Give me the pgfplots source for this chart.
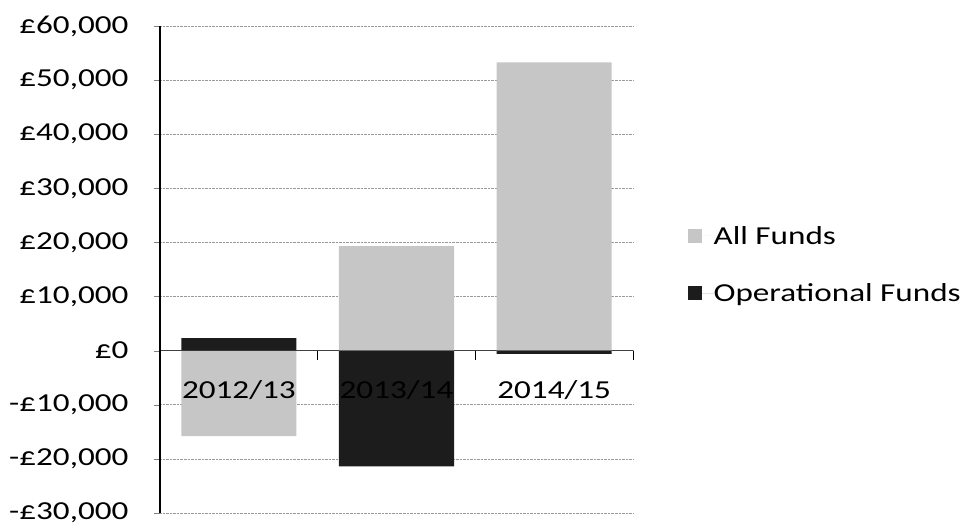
\documentclass[border=0pt]{standalone}
\usepackage{fontspec}
\setmainfont[FakeStretch=1.28]{Carlito}
\usepackage{pgfplots}
\pgfplotsset{compat=1.18}
\definecolor{allf}{HTML}{C6C6C6}
\definecolor{opf}{HTML}{1C1C1C}
\begin{document}
\begin{tikzpicture}
\useasboundingbox (-160bp,-13bp) rectangle (819bp,513bp);
\begin{axis}[
  scale only axis,
  width=473bp, height=487bp,
  xmin=-0.5, xmax=2.5,
  ymin=-30000, ymax=60000,
  scaled y ticks=false,
  clip=false,
  axis x line=middle,
  axis y line=left,
  axis line style={-},
  x axis line style={draw=black!75, line width=1pt},
  y axis line style={draw=black, line width=1.2pt},
  ytick={-30000,-20000,-10000,0,10000,20000,30000,40000,50000,60000},
  yticklabels={{-£30,000},{-£20,000},{-£10,000},{£0},{£10,000},{£20,000},{£30,000},{£40,000},{£50,000},{£60,000}},
  xtick={0,1,2},
  xticklabels={},
  minor xtick={-0.5,0.5,1.5,2.5},
  xtick align=outside,
  major x tick style={draw=none},
  minor x tick style={draw=black, line width=1pt},
  minor tick length=9bp,
  major tick length=6bp,
  ytick align=outside,
  ymajorgrids=true,
  grid style={densely dotted, gray!80, line width=0.6pt},
  tick label style={font=\fontsize{26}{31}\selectfont, text=black},
  yticklabel style={xshift=-22bp},
  ybar, bar shift=0pt, bar width=0.73,
  legend style={draw=none, fill=none, at={(1.115,0.51)}, anchor=west,
    font=\fontsize{26}{31}\selectfont, row sep=34bp, inner sep=0pt,
    nodes={inner xsep=0pt},
    legend cell align=left},
  legend image code/.code={\fill[#1] (0bp,-7bp) rectangle (14bp,7bp); \path (0bp,0bp) -- (26bp,0bp);},
]
\addplot[fill=allf, draw=none] coordinates {(0,-15800) (1,19300) (2,53300)};
\addplot[fill=opf, draw=none] coordinates {(0,2300) (1,-21400) (2,-600)};
\legend{All Funds, Operational Funds}
\foreach \i/\lab in {0/2012\slash13,1/2013\slash14,2/2014\slash15}{
  \edef\tmp{\noexpand\node[anchor=north, inner sep=0pt, font=\noexpand\fontsize{26}{31}\noexpand\selectfont, text=black] at (axis cs:\i,0) [yshift=-30bp] {\lab};}
  \tmp
}
\end{axis}
\end{tikzpicture}
\end{document}
